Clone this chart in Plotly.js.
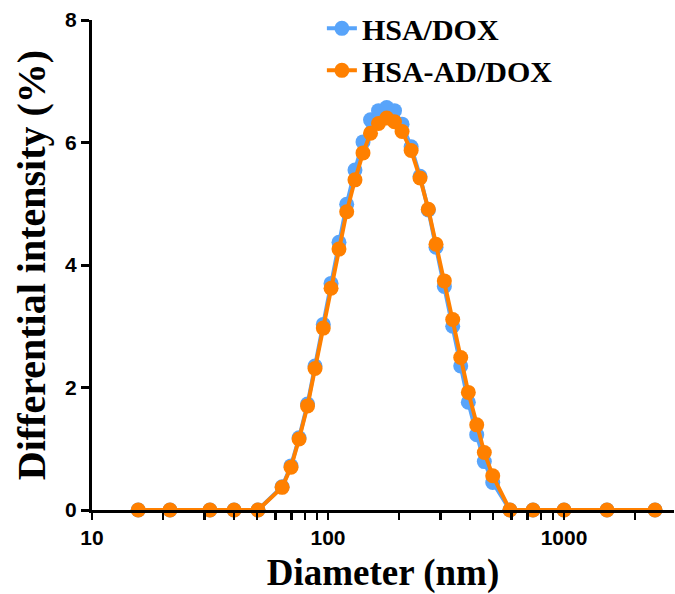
<!DOCTYPE html>
<html>
<head>
<meta charset="utf-8">
<script src="https://cdn.plot.ly/plotly-3.0.1.min.js"></script>
<style>html,body{margin:0;padding:0;background:#fff;}#chart{width:675px;height:594px;}</style>
</head>
<body>
<div id="chart"></div>
<script>
// Diameter (nm) bins
const diameter = [15.7, 21.4, 31.6, 40.0, 50.5, 63.9, 69.7, 75.4, 81.9, 88.1, 95.5, 103.0, 111.3, 120.0, 130.1, 140.7, 151.4, 163.7, 177.3, 191.3, 205.9, 225.0, 245.4, 266.1, 286.8, 311.1, 337.6, 365.0, 393.1, 426.7, 459.5, 498.8, 590.0, 739.0, 1000.0, 1521.0, 2430.0];
// Differential intensity (%)
const hsaDox = [0, 0, 0, 0, 0, 0.38, 0.72, 1.18, 1.73, 2.35, 3.03, 3.70, 4.37, 4.99, 5.55, 6.01, 6.37, 6.52, 6.57, 6.52, 6.30, 5.93, 5.45, 4.90, 4.29, 3.65, 3.00, 2.35, 1.76, 1.23, 0.79, 0.45, 0, 0, 0, 0, 0];
const hsaAdDox = [0, 0, 0, 0, 0, 0.37, 0.70, 1.16, 1.70, 2.31, 2.97, 3.62, 4.26, 4.87, 5.39, 5.83, 6.15, 6.31, 6.40, 6.34, 6.18, 5.87, 5.42, 4.91, 4.34, 3.74, 3.11, 2.49, 1.92, 1.39, 0.94, 0.56, 0, 0, 0, 0, 0];
const seriesNames = ["HSA/DOX", "HSA-AD/DOX"];
const xTickVals = [10, 100, 1000];
const xTickText = ["10", "100", "1000"];
const xMinorTickVals = [20, 30, 40, 50, 60, 70, 80, 90, 200, 300, 400, 500, 600, 700, 800, 900, 2000];
const yTickVals = [0, 2, 4, 6, 8];

// all x ticks on one axis: majors labelled, minors blank
const allXTickVals = xTickVals.concat(xMinorTickVals);
const allXTickText = xTickText.concat(xMinorTickVals.map(() => ""));

const blue = "rgb(88,164,250)";
const orange = "rgb(255,128,0)";

const traces = [
  {x: diameter, y: hsaDox, name: seriesNames[0], mode: "lines+markers", type: "scatter",
   line: {color: blue, width: 4}, marker: {color: blue, size: 15}, cliponaxis: false},
  {x: diameter, y: hsaAdDox, name: seriesNames[1], mode: "lines+markers", type: "scatter",
   line: {color: orange, width: 4}, marker: {color: orange, size: 15}, cliponaxis: false}
];

const tickFont = {family: "Liberation Sans, Arial, sans-serif", size: 21, color: "#000", weight: "bold"};
const xRange = [1, 3.466];

const layout = {
  width: 675, height: 594,
  margin: {l: 92, r: 1, t: 20, b: 84},
  paper_bgcolor: "#fff", plot_bgcolor: "#fff",
  showlegend: true,
  legend: {
    x: 0.395, y: 1.036, xanchor: "left", yanchor: "top",
    font: {family: "Liberation Serif, Times New Roman, serif", size: 30, color: "#000", weight: "bold"},
    bgcolor: "rgba(0,0,0,0)", traceorder: "normal"
  },
  xaxis: {
    type: "log", range: xRange,
    tickmode: "array", tickvals: allXTickVals, ticktext: allXTickText,
    ticks: "outside", ticklen: 7, tickwidth: 2.5, tickcolor: "black",
    showline: true, linewidth: 3, linecolor: "black", showgrid: false, zeroline: false,
    tickfont: tickFont,
    title: {text: "Diameter (nm)", font: {family: "Liberation Serif, Times New Roman, serif", size: 37, color: "#000", weight: "bold"}, standoff: 14}
  },
  yaxis: {
    range: [0, 8], tickvals: yTickVals,
    ticks: "outside", ticklen: 8, tickwidth: 3, tickcolor: "black",
    showline: true, linewidth: 3, linecolor: "black", showgrid: false, zeroline: false,
    tickfont: tickFont,
    title: {text: "Differential intensity (%)", font: {family: "Liberation Serif, Times New Roman, serif", size: 40, color: "#000", weight: "bold"}, standoff: 8}
  }
};

Plotly.newPlot("chart", traces, layout, {displayModeBar: false, staticPlot: true});
</script>
</body>
</html>
